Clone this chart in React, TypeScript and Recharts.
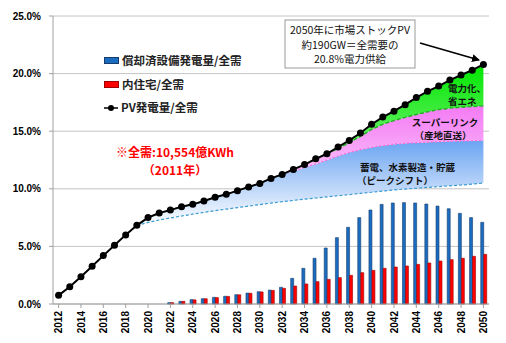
import { ComposedChart, Bar, Line, Area, XAxis, YAxis, CartesianGrid } from 'recharts'

const YEARS = [
  2012, 2013, 2014, 2015, 2016, 2017, 2018, 2019, 2020, 2021,
  2022, 2023, 2024, 2025, 2026, 2027, 2028, 2029, 2030, 2031,
  2032, 2033, 2034, 2035, 2036, 2037, 2038, 2039, 2040, 2041,
  2042, 2043, 2044, 2045, 2046, 2047, 2048, 2049, 2050,
]

// PV発電量/全需 (%), 2012-2050
const PV_SHARE = [
  0.75, 1.5, 2.37, 3.27, 4.2, 5.1, 6.0, 6.83, 7.5, 7.9,
  8.15, 8.45, 8.65, 8.94, 9.26, 9.52, 9.84, 10.16, 10.47, 10.9,
  11.25, 11.68, 12.1, 12.6, 13.04, 13.63, 14.2, 14.84, 15.6, 16.23,
  16.74, 17.3, 17.92, 18.46, 18.92, 19.44, 19.88, 20.3, 20.8,
]

// bars start in 2022
const BAR_START = 2022
const AMORTIZED = [
  0.12, 0.23, 0.38, 0.46, 0.58, 0.67, 0.81, 0.95, 1.07, 1.21,
  1.45, 2.23, 3.1, 3.97, 4.86, 5.76, 6.66, 7.5, 8.16, 8.65,
  8.77, 8.8, 8.77, 8.68, 8.5, 8.27, 7.87, 7.5, 7.09,
]
const RESIDENTIAL = [
  0.12, 0.23, 0.36, 0.46, 0.56, 0.66, 0.8, 0.93, 1.05, 1.18,
  1.36, 1.56, 1.74, 1.94, 2.14, 2.29, 2.49, 2.72, 2.92, 3.1,
  3.21, 3.3, 3.44, 3.56, 3.73, 3.85, 3.97, 4.14, 4.31,
]

// areas start in 2019
const AREA_START = 2019
const STORAGE_BASE = [
  6.83, 7.08, 7.29, 7.47, 7.64, 7.8, 7.95, 8.1, 8.24, 8.37,
  8.5, 8.63, 8.76, 8.88, 8.99, 9.1, 9.2, 9.3, 9.4, 9.5,
  9.6, 9.7, 9.8, 9.9, 9.98, 10.05, 10.12, 10.19, 10.26, 10.33,
  10.4, 10.5,
]
const STORAGE_TOP = [
  6.83, 7.5, 7.9, 8.15, 8.45, 8.65, 8.94, 9.26, 9.52, 9.84,
  10.16, 10.47, 10.9, 11.25, 11.55, 11.85, 12.15, 12.5, 12.85, 13.15,
  13.4, 13.6, 13.75, 13.87, 13.95, 14.0, 14.05, 14.09, 14.12, 14.15,
  14.17, 14.2,
]
const SUPERLINK_TOP = [
  6.83, 7.5, 7.9, 8.15, 8.45, 8.65, 8.94, 9.26, 9.52, 9.84,
  10.16, 10.47, 10.9, 11.25, 11.68, 12.1, 12.6, 13.04, 13.5, 14.0,
  14.55, 15.15, 15.6, 15.92, 16.2, 16.45, 16.68, 16.88, 17.0, 17.08,
  17.14, 17.2,
]

const Y_TICKS = [0, 5, 10, 15, 20, 25]

const data = YEARS.map((year, i) => {
  const b = year - BAR_START
  const a = year - AREA_START
  return {
    year,
    pv: PV_SHARE[i],
    amortized: b >= 0 ? AMORTIZED[b] : null,
    residential: b >= 0 ? RESIDENTIAL[b] : null,
    base: a >= 0 ? STORAGE_BASE[a] : null,
    storageTop: a >= 0 ? STORAGE_TOP[a] : null,
    linkTop: a >= 0 ? SUPERLINK_TOP[a] : null,
  }
})

const FONT = "'Liberation Sans', 'Noto Sans CJK JP', sans-serif"
const CJK = "'Noto Sans CJK JP', 'Liberation Sans', sans-serif"

function YearTick({ x, y, payload }: any) {
  const ty = y + 1
  return (
    <text x={x} y={ty} transform={`rotate(-90 ${x} ${ty})`} textAnchor="end" dy={3.6}
      fontSize={10} fontWeight={700} fill="#000" fontFamily={FONT}>
      {payload.value}
    </text>
  )
}

function LegendBox() {
  const row = { display: 'flex', alignItems: 'center', height: 23.5, whiteSpace: 'nowrap' as const }
  const txt = { fontSize: 11.5, fontWeight: 700, color: '#222', fontFamily: CJK, marginLeft: 3 }
  return (
    <div style={{ position: 'absolute', left: 104, top: 49, lineHeight: 1 }}>
      <div style={row}>
        <span style={{ width: 13, height: 5, background: '#1a6cc0', border: '0.5px solid #173c6b' }} />
        <span style={txt}>償却済設備発電量/全需</span>
      </div>
      <div style={row}>
        <span style={{ width: 13, height: 5, background: '#ff0000', border: '0.5px solid #a00000' }} />
        <span style={txt}>内住宅/全需</span>
      </div>
      <div style={row}>
        <svg width={14} height={8}>
          <line x1={0} y1={4} x2={14} y2={4} stroke="#000" strokeWidth={1.5} />
          <circle cx={7} cy={4} r={3} fill="#000" />
        </svg>
        <span style={txt}>PV発電量/全需</span>
      </div>
    </div>
  )
}

export default function App() {
  return (
    <div style={{ position: 'absolute', left: 0, top: 0, width: 506, height: 343, background: '#fff' }}>
      <ComposedChart width={506} height={343} data={data}
        margin={{ top: 16, right: 17, left: 5, bottom: 0 }}
        barCategoryGap="26%" barGap={0}>
        <defs>
          <linearGradient id="gradStorage" x1="0" y1="0" x2="0" y2="1">
            <stop offset="0%" stopColor="#6aa4f2" />
            <stop offset="100%" stopColor="#ffffff" />
          </linearGradient>
          <linearGradient id="gradLink" x1="0" y1="0" x2="0" y2="1">
            <stop offset="0%" stopColor="#f47af4" />
            <stop offset="100%" stopColor="#fff4ff" />
          </linearGradient>
          <linearGradient id="gradElec" x1="0" y1="0" x2="0" y2="1">
            <stop offset="0%" stopColor="#00e600" />
            <stop offset="100%" stopColor="#d4fad4" />
          </linearGradient>
        </defs>
        <CartesianGrid vertical={false} stroke="#c4c4c4" />
        <XAxis dataKey="year" interval={1} height={39} tick={<YearTick />}
          axisLine={{ stroke: '#a0a0a0' }} tickLine={{ stroke: '#a0a0a0' }} tickSize={4} />
        <YAxis domain={[0, 25]} ticks={Y_TICKS} width={48} tickSize={4} tickMargin={8}
          tickFormatter={(v: number) => v.toFixed(1) + '%'}
          tick={{ fontSize: 10, fontWeight: 700, fill: '#000', fontFamily: FONT }}
          axisLine={{ stroke: '#a0a0a0' }} tickLine={{ stroke: '#a0a0a0' }} />
        <YAxis yAxisId="r" orientation="right" width={0} tick={false} tickLine={false}
          axisLine={{ stroke: '#a0a0a0' }} />

        <Area dataKey={(d: any) => (d.base == null ? null : [d.base, d.storageTop])}
          fill="url(#gradStorage)" fillOpacity={1} stroke="none" isAnimationActive={false} />
        <Area dataKey={(d: any) => (d.base == null ? null : [d.storageTop, d.linkTop])}
          fill="url(#gradLink)" fillOpacity={1} stroke="none" isAnimationActive={false} />
        <Area dataKey={(d: any) => (d.base == null ? null : [d.linkTop, d.pv])}
          fill="url(#gradElec)" fillOpacity={1} stroke="none" isAnimationActive={false} />

        <Bar dataKey="amortized" fill="#1a6cc0" stroke="#173c6b" strokeWidth={0.6} isAnimationActive={false} />
        <Bar dataKey="residential" fill="#ff0000" stroke="#9a0000" strokeWidth={0.6} isAnimationActive={false} />

        <Line dataKey="base" stroke="#3a9ad0" strokeWidth={1.2} strokeDasharray="3 2" dot={false}
          isAnimationActive={false} />
        <Line dataKey="storageTop" stroke="#ff6ad5" strokeWidth={1.2} strokeDasharray="2 2" dot={false}
          isAnimationActive={false} />
        <Line dataKey="linkTop" stroke="#22b022" strokeWidth={1.4} strokeDasharray="4 2" dot={false}
          isAnimationActive={false} />
        <Line dataKey="pv" stroke="#000" strokeWidth={2} isAnimationActive={false}
          dot={{ r: 3.5, fill: '#000', stroke: '#000', strokeWidth: 0 }} />
      </ComposedChart>

      <LegendBox />

      <svg width={506} height={343} style={{ position: 'absolute', left: 0, top: 0, pointerEvents: 'none' }}>
        <defs>
          <marker id="arrowHead" markerWidth="8" markerHeight="8" refX="7" refY="4" orient="auto" markerUnits="userSpaceOnUse">
            <path d="M0,0 L8,4 L0,8 z" fill="#000" />
          </marker>
        </defs>
        <rect x={285} y={20} width={130} height={48} fill="#fff" stroke="#9a9a9a" strokeWidth={1} />
        <g fontFamily={CJK} fontSize={10.5} fill="#111" textAnchor="middle">
          <text x={350} y={34}>2050年に市場ストックPV</text>
          <text x={350} y={49}>約190GW＝全需要の</text>
          <text x={350} y={63}>20.8%電力供給</text>
        </g>
        <line x1={420} y1={43} x2={479} y2={60} stroke="#000" strokeWidth={1.5} markerEnd="url(#arrowHead)" />

        <g fontFamily={CJK} fontSize={12} fontWeight={700} fill="#ff0000" textAnchor="middle">
          <text x={175} y={157}>※全需:10,554億KWh</text>
          <text x={175} y={175}>（2011年）</text>
        </g>

        <g fontFamily={CJK} fontSize={9.5} fontWeight={700} fill="#111">
          <text x={448} y={92}>電力化、</text>
          <text x={448} y={105}>省エネ</text>
          <text x={445} y={126} textAnchor="middle">スーパーリンク</text>
          <text x={443} y={139} textAnchor="middle">（産地直送）</text>
          <text x={360} y={171}>蓄電、水素製造・貯蔵</text>
          <text x={357} y={184}>（ピークシフト）</text>
        </g>
      </svg>
    </div>
  )
}
